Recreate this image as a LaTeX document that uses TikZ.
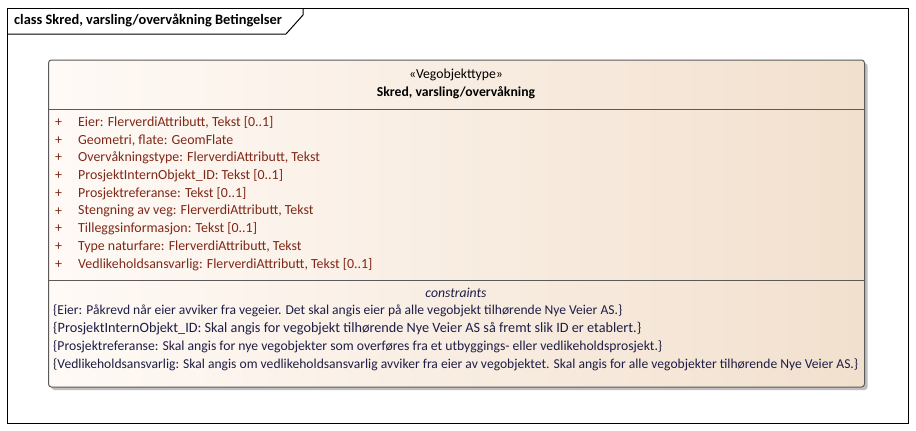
\documentclass[tikz,border=0pt]{standalone}
\usepackage{fontspec}
\setmainfont{Carlito}
\usetikzlibrary{shadows}
\definecolor{attrcol}{RGB}{128,40,24}
\definecolor{conscol}{RGB}{30,30,70}
\definecolor{boxleft}{RGB}{255,250,246}
\definecolor{boxright}{RGB}{242,224,206}
\definecolor{edgecol}{RGB}{90,90,90}
\tikzset{
  txt/.style={inner sep=0pt, font=\fontsize{13.7}{15}\selectfont},
  attr/.style={txt, anchor=west, text=attrcol, font=\fontsize{13.9}{15}\selectfont},
  cons/.style={txt, anchor=west, text=conscol},
  classbox/.style={draw=edgecol, line width=1pt, rounded corners=3pt,
    left color=boxleft, right color=boxright, shading angle=90,
    drop shadow={shadow xshift=3pt, shadow yshift=-3pt, fill=black!25, opacity=1}}
}
\begin{document}
\begin{tikzpicture}[x=1pt,y=-1pt]
\useasboundingbox[fill=white] (0,0) rectangle (916,431);
% frame
\draw[line width=1pt] (7.5,8) rectangle (908,423);
\draw[line width=1pt] (7.5,34) -- (286,34) -- (303,15) -- (303,8);
\node[txt, anchor=west, font=\fontsize{14.4}{16}\selectfont\bfseries] (title) at (14,21) {class Skred, varsling/overvåkning Betingelser};
% class box
\node[classbox, minimum width=816pt, minimum height=327pt, inner sep=0pt, anchor=north west] (cls) at (48,59.5) {};
\draw[edgecol, line width=1pt] (48,109.5) -- (863.5,109.5);
\draw[edgecol, line width=1pt] (48,280.5) -- (863.5,280.5);
\node[txt] (st) at (456,75) {«Vegobjekttype»};
\node[txt, font=\fontsize{13.7}{15}\selectfont\bfseries] (nm) at (456,93) {Skred, varsling/overvåkning};
% attributes
\foreach \i/\t in {0/{Eier: FlerverdiAttributt, Tekst [0..1]},
  1/{Geometri, flate: GeomFlate},
  2/{Overvåkningstype: FlerverdiAttributt, Tekst},
  3/{ProsjektInternObjekt\_ID: Tekst [0..1]},
  4/{Prosjektreferanse: Tekst [0..1]},
  5/{Stengning av veg: FlerverdiAttributt, Tekst},
  6/{Tilleggsinformasjon: Tekst [0..1]},
  7/{Type naturfare: FlerverdiAttributt, Tekst},
  8/{Vedlikeholdsansvarlig: FlerverdiAttributt, Tekst [0..1]}}{
  \node[attr] (p\i) at (55,122.5+17.75*\i) {+};
  \node[attr] (a\i) at (78,122.5+17.75*\i) {\t};
}
\node[txt, font=\fontsize{13.7}{15}\selectfont\itshape, text=conscol] (ch) at (456,293) {constraints};
\node[cons] (c0) at (53,311) {\resizebox{569pt}{!}{\{Eier: Påkrevd når eier avviker fra vegeier. Det skal angis eier på alle vegobjekt tilhørende Nye Veier AS.\}}};
\node[cons] (c1) at (53,329) {\resizebox{588pt}{!}{\{ProsjektInternObjekt\_ID: Skal angis for vegobjekt tilhørende Nye Veier AS så fremt slik ID er etablert.\}}};
\node[cons] (c2) at (53,347) {\resizebox{609pt}{!}{\{Prosjektreferanse: Skal angis for nye vegobjekter som overføres fra et utbyggings- eller vedlikeholdsprosjekt.\}}};
\node[cons] (c3) at (53,365) {\resizebox{805pt}{!}{\{Vedlikeholdsansvarlig: Skal angis om vedlikeholdsansvarlig avviker fra eier av vegobjektet. Skal angis for alle vegobjekter tilhørende Nye Veier AS.\}}};
\end{tikzpicture}
\end{document}
